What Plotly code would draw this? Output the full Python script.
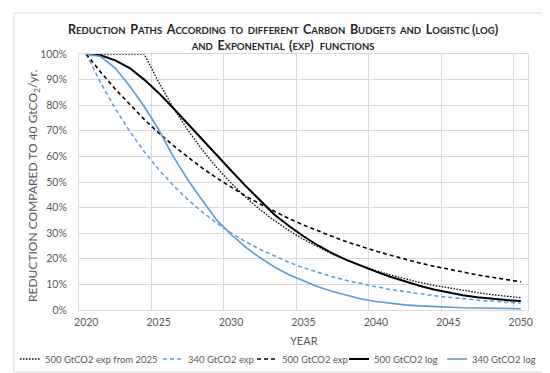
import plotly.graph_objects as go

# ---------------- data ----------------
years = list(range(2020, 2051))

exp500_from2025 = [1.000, 1.000, 1.000, 1.000, 1.000, 0.890, 0.791, 0.704, 0.626, 0.557,
                   0.496, 0.441, 0.392, 0.349, 0.310, 0.276, 0.246, 0.218, 0.194, 0.173,
                   0.154, 0.137, 0.122, 0.108, 0.096, 0.086, 0.076, 0.068, 0.060, 0.054, 0.048]
exp340 = [1.000, 0.887, 0.787, 0.698, 0.619, 0.549, 0.487, 0.432, 0.383, 0.340,
          0.301, 0.267, 0.237, 0.210, 0.186, 0.165, 0.147, 0.130, 0.115, 0.102,
          0.091, 0.080, 0.071, 0.063, 0.056, 0.050, 0.044, 0.039, 0.035, 0.031, 0.027]
exp500 = [1.000, 0.929, 0.863, 0.802, 0.745, 0.692, 0.643, 0.598, 0.555, 0.516,
          0.479, 0.445, 0.414, 0.384, 0.357, 0.332, 0.308, 0.287, 0.266, 0.247,
          0.230, 0.214, 0.198, 0.184, 0.171, 0.159, 0.148, 0.137, 0.128, 0.119, 0.110]
log500 = [1.000, 0.995, 0.975, 0.945, 0.900, 0.848, 0.789, 0.727, 0.666, 0.605,
          0.545, 0.485, 0.428, 0.372, 0.328, 0.288, 0.252, 0.221, 0.195, 0.171,
          0.150, 0.130, 0.112, 0.095, 0.080, 0.068, 0.058, 0.050, 0.044, 0.039, 0.035]
log340 = [1.000, 0.990, 0.945, 0.875, 0.795, 0.705, 0.600, 0.510, 0.430, 0.352,
          0.295, 0.246, 0.204, 0.168, 0.138, 0.113, 0.091, 0.072, 0.056, 0.043,
          0.033, 0.026, 0.020, 0.016, 0.013, 0.011, 0.009, 0.008, 0.007, 0.006, 0.005]

series_names = ["500 GtCO2 exp from 2025", "340 GtCO2 exp", "500 GtCO2 exp",
                "500 GtCO2 log", "340 GtCO2 log"]
series_values = [exp500_from2025, exp340, exp500, log500, log340]

x_tick_labels = [2020, 2025, 2030, 2035, 2040, 2045, 2050]
y_tick_values = [0, 0.1, 0.2, 0.3, 0.4, 0.5, 0.6, 0.7, 0.8, 0.9, 1.0]

# ---------------- styles ----------------
BLUE = "#5B9BD5"
styles = [
    dict(color="#000000", dash="1.5px,1.5px", width=1.3),
    dict(color=BLUE, dash="4px,3px", width=1.5),
    dict(color="#000000", dash="4px,3px", width=1.6),
    dict(color="#000000", dash="solid", width=2.0),
    dict(color=BLUE, dash="solid", width=1.6),
]
FONT = "Lato, 'Open Sans', sans-serif"
TXT = "#595959"
GRID = "#D9D9D9"

W, H = 550, 373
L, R, T, B = 71, 520, 46, 302


def px_x(px):
    return (px - L) / (R - L)


def px_y(py):
    return (B - py) / (B - T)


def smallcaps(s, big, small):
    runs = []
    for ch in s:
        kind = "s" if ch.islower() else ("b" if ch != " " else None)
        if kind is None and runs:
            runs[-1][0] += ch
            continue
        if runs and runs[-1][1] == kind:
            runs[-1][0] += ch
        else:
            runs.append([ch, kind or "b"])
    parts = []
    for txt, kind in runs:
        size = small if kind == "s" else big
        parts.append('<span style="font-size:%gpx">%s</span>' % (size, txt.upper()))
    return "".join(parts)


fig = go.Figure()
for name, vals, st in zip(series_names, series_values, styles):
    fig.add_trace(go.Scatter(
        x=years, y=vals, mode="lines", name=name, showlegend=False,
        line=dict(color=st["color"], dash=st["dash"], width=st["width"]),
    ))

title_text = (smallcaps("Reduction  Paths  According  to  different  Carbon  Budgets  and  Logistic (log)", 12.5, 9.5)
              + "<br>" + smallcaps("and  Exponential  (exp)  functions", 12.5, 9.5))

annotations = [
    dict(text=title_text, x=px_x(275), y=px_y(29.5), xref="paper", yref="paper",
         showarrow=False, xanchor="center", yanchor="middle",
         font=dict(family=FONT, size=12.5, color="#262626", weight="bold")),
    dict(text="REDUCTION COMPARED TO 40 GtCO<sub>2</sub>/yr.", x=px_x(25), y=px_y(178),
         xref="paper", yref="paper", showarrow=False, textangle=-90,
         xanchor="center", yanchor="middle", font=dict(family=FONT, size=12, color=TXT)),
    dict(text="YEAR", x=0.5, y=px_y(332), xref="paper", yref="paper", showarrow=False,
         xanchor="center", yanchor="middle", font=dict(family=FONT, size=11, color=TXT)),
]

# custom legend (one row, short line samples)
legend_px = [12, 155, 249, 341, 439]
legend_y = 351
shapes = []
for name, st, lx in zip(series_names, styles, legend_px):
    shapes.append(dict(type="line", xref="paper", yref="paper",
                       x0=px_x(lx), x1=px_x(lx + 20), y0=px_y(legend_y), y1=px_y(legend_y),
                       line=dict(color=st["color"], dash=st["dash"], width=st["width"])))
    annotations.append(dict(text=name, x=px_x(lx + 23), y=px_y(legend_y), xref="paper", yref="paper",
                            showarrow=False, xanchor="left", yanchor="middle",
                            font=dict(family=FONT, size=9.5, color=TXT)))

# chart border
shapes.append(dict(type="rect", xref="paper", yref="paper",
                   x0=px_x(6), x1=px_x(544), y0=px_y(364), y1=px_y(5),
                   line=dict(color=GRID, width=1), layer="below"))

fig.update_layout(
    width=W, height=H,
    margin=dict(l=L, r=W - R, t=T, b=H - B),
    paper_bgcolor="white", plot_bgcolor="white",
    showlegend=False,
    annotations=annotations, shapes=shapes,
    font=dict(family=FONT, size=11, color=TXT),
)
fig.update_xaxes(
    range=[2019.5, 2050.5], tickmode="array", tickvals=x_tick_labels,
    ticktext=[str(v) for v in x_tick_labels],
    showgrid=False, zeroline=False, showline=True, mirror=True, linecolor=GRID, linewidth=1,
    ticks="", ticklabelstandoff=2,
    tickfont=dict(family=FONT, size=10.5, color=TXT),
    minor=dict(tickmode="array", tickvals=[2024.5, 2029.5, 2034.5, 2039.5, 2044.5, 2049.5],
               showgrid=True, gridcolor=GRID, gridwidth=1, ticks=""),
)
fig.update_yaxes(
    range=[0, 1], tickmode="array", tickvals=y_tick_values, tickformat=".0%",
    showgrid=True, gridcolor=GRID, gridwidth=1, zeroline=False,
    showline=True, mirror=True, linecolor=GRID, linewidth=1,
    ticks="", ticklabelstandoff=9,
    tickfont=dict(family=FONT, size=10.5, color=TXT),
)

fig.write_html("out.html")
